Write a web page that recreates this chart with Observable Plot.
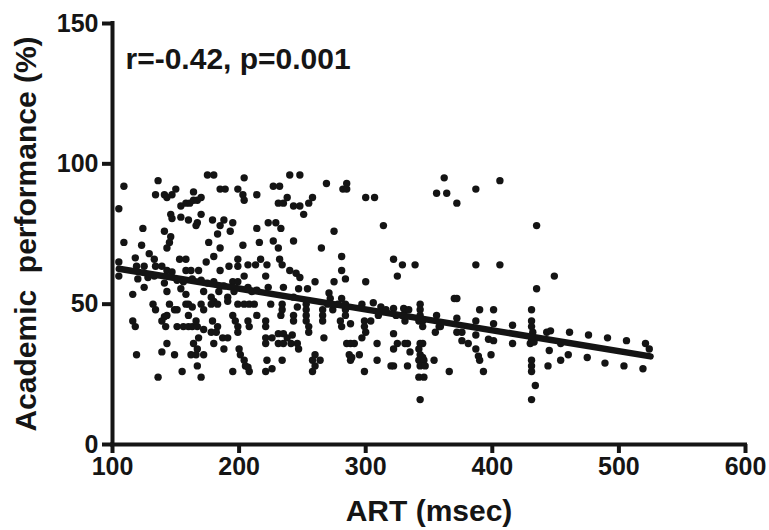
<!DOCTYPE html>
<html>
<head>
<meta charset="utf-8">
<script src="https://cdn.jsdelivr.net/npm/d3@7"></script>
<script src="https://cdn.jsdelivr.net/npm/@observablehq/plot@0.6"></script>
<style>
  html, body { margin: 0; padding: 0; background: #fff; }
  #chart { width: 769px; height: 530px; }
</style>
</head>
<body>
<div id="chart"></div>
<script>
// ART (msec) of each participant
const art = [
175,180,109,136,204,105,134,141,143,147,
150,164,170,185,189,199,203,204,214,154,
158,161,164,167,146,147,154,160,170,167,
166,179,188,195,185,214,124,141,146,145,
143,193,183,109,176,123,185,203,216,129,
118,133,153,158,180,174,199,119,125,134,
139,105,105,143,147,158,162,168,185,192,
199,207,213,204,120,128,133,151,156,163,
170,175,180,188,195,199,141,143,125,116,
154,158,172,178,184,191,196,207,210,214,
132,134,145,149,151,158,160,163,170,172,
180,191,199,204,208,212,214,195,116,118,
139,141,143,142,151,156,160,163,167,172,
160,166,179,183,178,182,197,199,199,207,
208,187,191,168,143,164,167,180,188,200,
201,204,205,208,207,119,139,149,162,166,
172,167,155,170,136,195,178,183,
240,248,227,232,269,282,285,285,238,231,
235,243,248,251,255,258,300,307,223,229,
233,275,314,227,231,243,265,281,217,222,
232,234,240,245,248,221,281,284,322,329,
325,260,254,275,271,281,300,306,312,223,
235,247,243,272,322,330,
225,234,234,246,253,253,266,270,274,278,
284,284,297,316,
221,221,233,243,243,253,253,255,255,266,
266,280,281,284,288,299,299,300,297,304,
310,324,
221,221,226,231,231,235,235,238,241,242,
246,247,267,285,288,291,309,322,325,322,
222,234,221,226,260,258,264,260,258,287,
288,289,295,299,309,320,322,
362,356,364,372,387,406,435,339,387,406,
449,435,370,372,
343,343,343,342,345,345,331,334,331,329,
356,355,358,359,372,372,376,376,381,387,
387,390,401,401,397,401,331,333,335,333,
343,345,342,343,345,342,346,343,347,342,
346,343,354,366,387,389,390,393,399,416,
416,431,431,431,432,433,431,430,433,431,
431,431,434,431,443,446,445,444,454,454,
461,460,476,475,491,489,506,504,521,524,
519
];

// Academic performance (%) of each participant, same order
const performance = [
96,96,92,94,95,84,89,89,88,89,
91,90,88,91,91,91,89,87,89,85,
86,86,87,87,82,80.5,81,80,82,79,
78,80,80,79,78,77,77,76,74,72,
70,76,75,72,72,71,70,71,72,68,
66.5,66,66,66,67,65,66,63.5,63.5,63.5,
63.5,65,60,62,61.5,62,62,62,62,63.5,
63.5,64,64,60,59,59.5,60,58.5,58,59,
58.5,57.5,58,56.5,58,58,57.5,54.5,56,53.5,
55.5,53.5,54.5,52.5,54.5,52.5,54.5,56,54.5,55,
50,48,50,48,48,50,50,49,50,48,
51,51,50,50,50,50,46,46,44,42,
44,45.5,46,42,42,42,42,42,42,41,
46,44,44,42,40,40,44,42,40,44,
42,38,38,38,36,36,34,36,34,34,
32,30,28,26,27.5,32,33,32,32,32,
32,28,26,24,24,26,50,50,
96,96,92,92,93,91,91,93,88,86,
86,85,85,82,86,88,88,88,79,79,
77,76,78,72.5,70,72.5,70,67,66,64,
66,64,62,61,59.5,60,62,59,66,64,
60,58,55.5,58,54,52,58,50.5,49,56,
56,55.5,52.5,52,48.5,48.5,
50,50,48,49,50,48,48,50,48,50,
50,48,50,48,
44,42,46,46,44,46,44,42,40,46,
44,44,42,46,43,44,42,40,38,44,
46,46,
38,36,38,39.5,36,39.5,36,38,36,39,
36,34,38,36,36,36,36,39.5,36,34,
30,30,26,27,32,30,30,28,26,32,
30,31,32,26,30,28,28,
95,89.5,89.5,86,91,94,78,64,64,64,
60,55.5,52,52,
50,48,46,44,44,42,48,48,44,46,
46,40,42,42,45,40,40,37,36,44,
39,48,48,43,37.5,37,36,36,33,28,
36,36,34,32,31,30,30,28,28,24,
24,16,30,26,34,31.5,30,26,32,42.5,
36,48,44,42,40,38,37,36,36.5,30,
28,26,21,16,40,40.5,33.5,28,36,30,
40,32,39,31,38,29,37,28,36,34,
27
];

// fitted regression line end points
const fitArt = [105, 525];
const fitPerf = [62.6, 31.4];

// axes
const xDomain = [100, 600];
const yDomain = [0, 150];
const xTicks = [100, 200, 300, 400, 500, 600];
const yTicks = [0, 50, 100, 150];

const statsText = "r=-0.42, p=0.001";
const xLabel = "ART (msec)";
const yLabel = "Academic\u00a0 performance (%)";

const points = d3.zip(art, performance).map(([a, p]) => ({art: a, perf: p}));
const fit = d3.zip(fitArt, fitPerf).map(([a, p]) => ({art: a, perf: p}));

const chart = Plot.plot({
  width: 769,
  height: 530,
  marginLeft: 112,
  marginRight: 24,
  marginTop: 23,
  marginBottom: 86,
  style: {
    fontFamily: "'Liberation Sans', Arial, Helvetica, sans-serif",
    fontWeight: "bold",
    color: "#151515",
    background: "#fff",
    overflow: "visible"
  },
  x: {domain: xDomain},
  y: {domain: yDomain},
  marks: [
    Plot.axisX({ticks: xTicks, tickSize: 9, tickPadding: 4, strokeWidth: 4, fontSize: 25, label: null, tickFormat: d => String(d)}),
    Plot.axisY({ticks: yTicks, tickSize: 10, tickPadding: 4, strokeWidth: 4, fontSize: 25, label: null, tickFormat: d => String(d)}),
    Plot.ruleX([xDomain[0]], {y1: yDomain[0], y2: yDomain[1], strokeWidth: 4, stroke: "#151515", strokeLinecap: "square"}),
    Plot.ruleY([yDomain[0]], {x1: xDomain[0], x2: xDomain[1], strokeWidth: 4, stroke: "#151515", strokeLinecap: "square"}),
    Plot.dot(points, {x: "art", y: "perf", r: 3.7, fill: "#141414", stroke: "none"}),
    Plot.line(fit, {x: "art", y: "perf", stroke: "#141414", strokeWidth: 6.5}),
    Plot.text([statsText], {frameAnchor: "top-left", textAnchor: "start", lineAnchor: "bottom", dx: 13, dy: 45, fontSize: 30, fill: "#151515"}),
    Plot.text([xLabel], {frameAnchor: "bottom", textAnchor: "middle", lineAnchor: "bottom", dy: 76, fontSize: 30, fill: "#151515"}),
    Plot.text([yLabel], {frameAnchor: "left", textAnchor: "middle", rotate: -90, dx: -86, fontSize: 30, fill: "#151515"})
  ]
});
document.getElementById("chart").appendChild(chart);
</script>
</body>
</html>
